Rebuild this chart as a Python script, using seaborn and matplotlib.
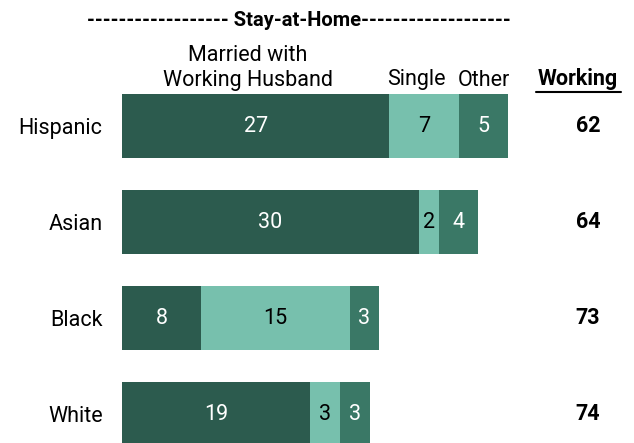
import matplotlib
matplotlib.use("Agg")
import matplotlib.pyplot as plt
import seaborn as sns
import pandas as pd
import numpy as np

groups = ["Hispanic", "Asian", "Black", "White"]
married = [27, 30, 8, 19]
single = [7, 2, 15, 3]
other = [5, 4, 3, 3]
working = [62, 64, 73, 74]

c_married = "#2c5b4e"
c_single = "#77c0ad"
c_other = "#3a7866"

sns.set_theme(style="white")
plt.rcParams["font.family"] = ["Roboto", "DejaVu Sans"]

df = pd.DataFrame({"group": groups, "married": married, "single": single, "other": other})
df["s2"] = df["married"] + df["single"]
df["s3"] = df["s2"] + df["other"]

fig = plt.figure(figsize=(6.34, 4.43), dpi=100)
W, H = 634, 443
ax = fig.add_axes([122 / W, 0, 495 / W, 365 / H])

for col, c in [("s3", c_other), ("s2", c_single), ("married", c_married)]:
    sns.barplot(data=df, y="group", x=col, color=c, width=0.66, ax=ax, saturation=1,
                orient="y", linewidth=0, edgecolor=c)

FS = 15.5
ax.set_xlim(0, 50)
ax.set_ylim(3.30, -0.5)
ax.set_xlabel("")
ax.set_ylabel("")
ax.set_xticks([])
for s in ax.spines.values():
    s.set_visible(False)
ax.tick_params(axis="y", length=0, pad=14, labelsize=FS)
for t in ax.get_yticklabels():
    t.set_color("black")

for i in range(len(groups)):
    m, s_, o = married[i], single[i], other[i]
    ax.text(m / 2, i, str(m), ha="center", va="center", color="white", fontsize=FS)
    ax.text(m + s_ / 2, i, str(s_), ha="center", va="center", color="black", fontsize=FS)
    ax.text(m + s_ + o / 2, i, str(o), ha="center", va="center", color="white", fontsize=FS)
    ax.text((588 - 122) / 9.9, i, str(working[i]), ha="center", va="center",
            color="black", fontsize=FS, fontweight="bold", clip_on=False)

def fx(px):
    return px / W

def fy(py):
    return 1 - py / H

fig.text(fx(299), fy(20), "------------------ Stay-at-Home-------------------", ha="center", va="center",
         fontsize=14.5, fontweight="bold", color="black")
fig.text(fx(248), fy(68), "Married with\nWorking Husband", ha="center", va="center",
         fontsize=FS, color="black", linespacing=1.3)
fig.text(fx(416), fy(80), "Single", ha="center", va="center", fontsize=FS, color="black")
fig.text(fx(484), fy(80), "Other", ha="center", va="center", fontsize=FS, color="black")
fig.text(fx(578), fy(79), "Working", ha="center", va="center", fontsize=FS, fontweight="bold", color="black")
fig.add_artist(plt.Line2D([fx(536), fx(621)], [fy(92), fy(92)], color="black", lw=1.5))

fig.savefig("out.png", dpi=100)
